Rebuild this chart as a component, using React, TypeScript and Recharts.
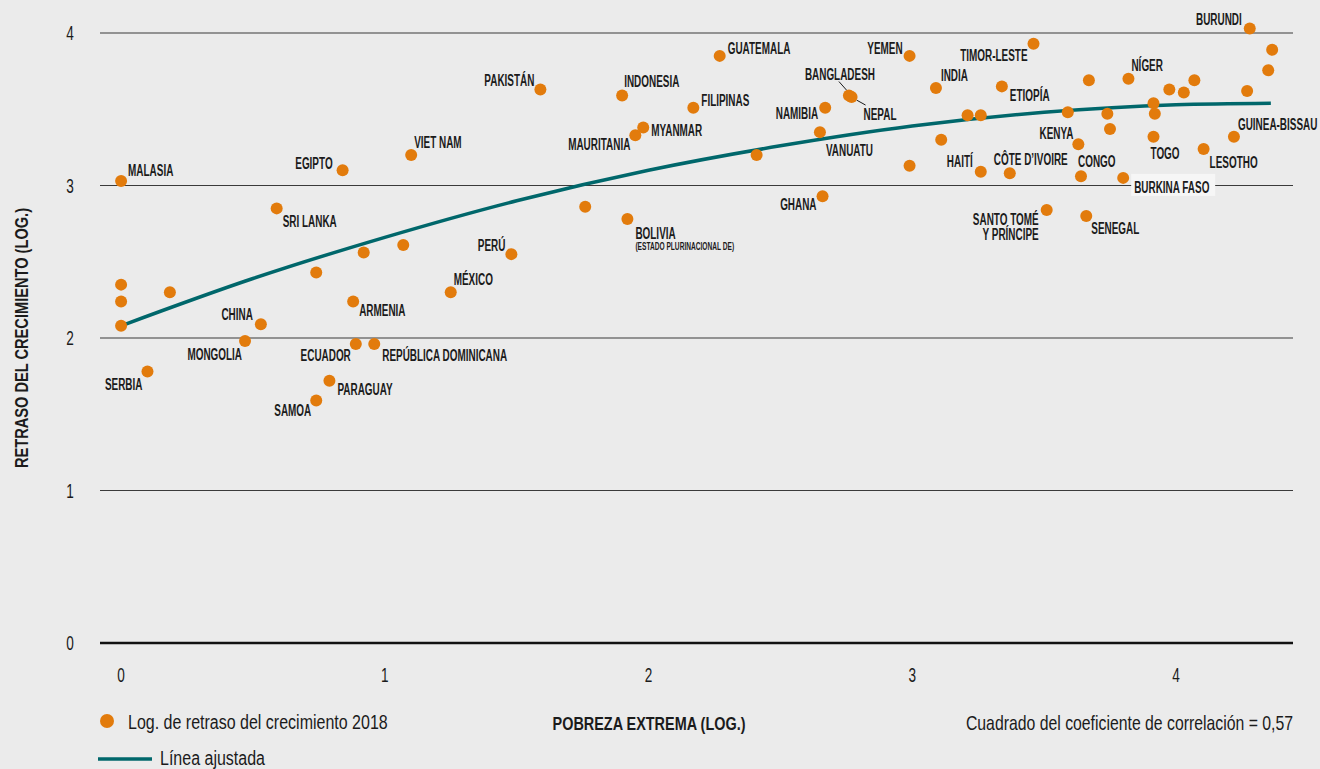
import { ComposedChart, Scatter, Line, XAxis, YAxis, ReferenceLine } from 'recharts'

// country labels ('' = unlabelled point), log of extreme poverty, log of stunting 2018
const countries = [
  'MALASIA', '', '', '', '', 'SERBIA', 'CHINA', 'MONGOLIA', 'SRI LANKA', 'EGIPTO',
  'VIET NAM', '', '', '', 'ARMENIA', 'ECUADOR', 'REPÚBLICA DOMINICANA', 'PARAGUAY', 'SAMOA', 'MÉXICO',
  'PERÚ', 'PAKISTÁN', '', 'INDONESIA', 'BOLIVIA\n(ESTADO PLURINACIONAL DE)', 'MAURITANIA', 'MYANMAR', 'FILIPINAS', 'GUATEMALA', '',
  'VANUATU', 'GHANA', 'NAMIBIA', 'BANGLADESH', 'NEPAL', 'YEMEN', '', 'INDIA', '', '',
  'HAITÍ', '', 'ETIOPÍA', 'CÔTE D’IVOIRE', 'TIMOR-LESTE', 'SANTO TOMÉ\nY PRÍNCIPE', '', 'KENYA', 'CONGO', 'SENEGAL',
  '', '', '', 'BURKINA FASO', 'NÍGER', '', '', 'TOGO', '', '',
  '', 'LESOTHO', 'GUINEA-BISSAU', '', 'BURUNDI', '', '',
]
const povertyLog = [
  0.0, 0.0, 0.0, 0.0, 0.185, 0.1, 0.53, 0.47, 0.59, 0.84,
  1.1, 0.74, 0.92, 1.07, 0.88, 0.89, 0.96, 0.79, 0.74, 1.25,
  1.48, 1.59, 1.76, 1.9, 1.92, 1.95, 1.98, 2.17, 2.27, 2.41,
  2.65, 2.66, 2.67, 2.76, 2.77, 2.99, 2.99, 3.09, 3.11, 3.21,
  3.26, 3.26, 3.34, 3.37, 3.46, 3.51, 3.59, 3.63, 3.64, 3.66,
  3.67, 3.74, 3.75, 3.8, 3.82, 3.915, 3.92, 3.915, 3.975, 4.03,
  4.07, 4.105, 4.22, 4.27, 4.28, 4.35, 4.365,
]
const stuntingLog = [
  3.03, 2.35, 2.24, 2.08, 2.3, 1.78, 2.09, 1.98, 2.85, 3.1,
  3.2, 2.43, 2.56, 2.61, 2.24, 1.96, 1.96, 1.72, 1.59, 2.3,
  2.55, 3.63, 2.86, 3.59, 2.78, 3.33, 3.38, 3.51, 3.85, 3.2,
  3.35, 2.93, 3.51, 3.59, 3.58, 3.85, 3.13, 3.64, 3.3, 3.46,
  3.09, 3.46, 3.65, 3.08, 3.93, 2.84, 3.48, 3.27, 3.06, 2.8,
  3.69, 3.47, 3.37, 3.05, 3.7, 3.54, 3.47, 3.32, 3.63, 3.61,
  3.69, 3.24, 3.32, 3.62, 4.03, 3.755, 3.89,
]

// fitted line
const fitX = [0, 0.5, 1, 1.5, 2, 2.5, 3, 3.5, 4, 4.36]
const fitY = [2.08, 2.39, 2.66, 2.9, 3.1, 3.26, 3.39, 3.48, 3.53, 3.54]

const xTicks = [0, 1, 2, 3, 4]
const yTicks = [0, 1, 2, 3, 4]

const points = countries.map((name, i) => ({ name, x: povertyLog[i], y: stuntingLog[i] }))
const fitData = fitX.map((x, i) => ({ x, fit: fitY[i] }))

const FONT = '"Liberation Sans", Arial, sans-serif'
const ORANGE = '#E27B0C'
const TEAL = '#00676B'
const INK = '#1b1b1b'

type LabelPos = { dx: number; dy: number; anchor: 'start' | 'end' | 'middle'; leader?: number[]; box?: boolean }

const labelPos: Record<string, LabelPos> = {
  'MALASIA': { dx: 7, dy: -5, anchor: 'start' },
  'EGIPTO': { dx: -10, dy: -1, anchor: 'end' },
  'VIET NAM': { dx: 3, dy: -7, anchor: 'start' },
  'SRI LANKA': { dx: 6, dy: 19, anchor: 'start' },
  'PAKISTÁN': { dx: -6, dy: -3, anchor: 'end' },
  'INDONESIA': { dx: 2, dy: -9, anchor: 'start' },
  'GUATEMALA': { dx: 8, dy: -2, anchor: 'start' },
  'FILIPINAS': { dx: 8, dy: -2, anchor: 'start' },
  'MYANMAR': { dx: 8, dy: 8, anchor: 'start' },
  'MAURITANIA': { dx: -5, dy: 15, anchor: 'end' },
  'YEMEN': { dx: -7, dy: -2, anchor: 'end' },
  'BANGLADESH': { dx: -9, dy: -16, anchor: 'middle', leader: [-10, -14, -2, -5] },
  'NEPAL': { dx: 12, dy: 23, anchor: 'start', leader: [5, 3, 14, 8] },
  'NAMIBIA': { dx: -7, dy: 11, anchor: 'end' },
  'VANUATU': { dx: 6, dy: 24, anchor: 'start' },
  'GHANA': { dx: -6, dy: 14, anchor: 'end' },
  'BOLIVIA': { dx: 8, dy: 20, anchor: 'start' },
  'PERÚ': { dx: -6, dy: -3, anchor: 'end' },
  'MÉXICO': { dx: 3, dy: -7, anchor: 'start' },
  'ARMENIA': { dx: 6, dy: 15, anchor: 'start' },
  'CHINA': { dx: -8, dy: -4, anchor: 'end' },
  'MONGOLIA': { dx: -3, dy: 19, anchor: 'end' },
  'ECUADOR': { dx: -5, dy: 17, anchor: 'end' },
  'REPÚBLICA DOMINICANA': { dx: 8, dy: 17, anchor: 'start' },
  'SERBIA': { dx: -5, dy: 18, anchor: 'end' },
  'PARAGUAY': { dx: 8, dy: 14, anchor: 'start' },
  'SAMOA': { dx: -5, dy: 15, anchor: 'end' },
  'BURUNDI': { dx: -8, dy: -3, anchor: 'end' },
  'TIMOR-LESTE': { dx: -6, dy: 17, anchor: 'end' },
  'INDIA': { dx: 5, dy: -7, anchor: 'start' },
  'ETIOPÍA': { dx: 8, dy: 15, anchor: 'start' },
  'NÍGER': { dx: 3, dy: -8, anchor: 'start' },
  'KENYA': { dx: -5, dy: -5, anchor: 'end' },
  'TOGO': { dx: -3, dy: 22, anchor: 'start' },
  'GUINEA-BISSAU': { dx: 4, dy: -7, anchor: 'start' },
  'LESOTHO': { dx: 6, dy: 19, anchor: 'start' },
  'HAITÍ': { dx: -8, dy: -5, anchor: 'end' },
  'CÔTE D’IVOIRE': { dx: -16, dy: -8, anchor: 'start' },
  'CONGO': { dx: -3, dy: -9, anchor: 'start' },
  'BURKINA FASO': { dx: 11, dy: 15, anchor: 'start', box: true },
  'SANTO TOMÉ': { dx: -8, dy: 15, anchor: 'end' },
  'SENEGAL': { dx: 5, dy: 18, anchor: 'start' },
}

// condensed text: regular font squeezed horizontally
function CondText({ x, y, text, size, scale, weight = 400, anchor = 'start', rotate = 0 }: {
  x: number; y: number; text: string; size: number; scale: number; weight?: number
  anchor?: 'start' | 'end' | 'middle'; rotate?: number
}) {
  return (
    <text
      transform={`translate(${x},${y}) rotate(${rotate}) scale(${scale},1)`}
      fontFamily={FONT} fontSize={size} fontWeight={weight} fill={INK} textAnchor={anchor}
    >
      {text}
    </text>
  )
}

function CountryDot(props: any) {
  const { cx, cy, payload } = props
  const lines: string[] = payload.name ? payload.name.split('\n') : []
  const pos = lines.length ? labelPos[lines[0]] : undefined
  return (
    <g>
      {pos?.leader && (
        <line x1={cx + pos.leader[0]} y1={cy + pos.leader[1]} x2={cx + pos.leader[2]} y2={cy + pos.leader[3]}
          stroke={INK} strokeWidth={1} />
      )}
      {pos?.box && <rect x={cx + pos.dx - 3} y={cy + pos.dy - 19} width={84} height={22} fill="#f6f6f6" />}
      <circle cx={cx} cy={cy} r={6} fill={ORANGE} />
      {pos && lines.map((t, i) => {
        const small = t.startsWith('(')
        return (
          <CondText key={i} x={cx + pos.dx} y={cy + pos.dy + (small ? 11 : i * 15)} text={t}
            size={small ? 10 : 17} scale={small ? 0.66 : 0.585} weight={700} anchor={pos.anchor} />
        )
      })}
    </g>
  )
}

function YTick(props: any) {
  return <CondText x={70} y={props.y + 7} text={String(props.payload.value)} size={20} scale={0.68} anchor="middle" />
}

function XTick(props: any) {
  return <CondText x={props.x} y={682} text={String(props.payload.value)} size={20} scale={0.68} anchor="middle" />
}

export default function App() {
  return (
    <div style={{ position: 'absolute', left: 0, top: 0, width: 1320, height: 769, background: '#ebebeb' }}>
      <ComposedChart width={1320} height={769} margin={{ top: 17.75, right: 27, bottom: 96, left: 70 }}>
        <XAxis type="number" dataKey="x" domain={[-0.08, 4.444]} ticks={xTicks}
          height={30} axisLine={false} tickLine={false} tick={XTick} />
        <YAxis type="number" domain={[0, 4.1]} ticks={yTicks}
          width={30} axisLine={false} tickLine={false} tick={YTick} />
        {yTicks.map(v => (
          <ReferenceLine key={v} y={v} stroke={v === 0 ? '#111' : '#3a3a3a'} strokeWidth={v === 0 ? 2.6 : 1.2} />
        ))}
        <Line data={fitData} dataKey="fit" type="monotone" stroke={TEAL} strokeWidth={3.5}
          dot={false} activeDot={false} isAnimationActive={false} />
        <Scatter data={points} dataKey="y" shape={CountryDot} isAnimationActive={false} />
      </ComposedChart>

      <svg width={1320} height={769} style={{ position: 'absolute', left: 0, top: 0, pointerEvents: 'none' }}>
        <CondText x={28} y={338} rotate={-90} text="RETRASO DEL CRECIMIENTO (LOG.)" size={19} scale={0.77} weight={700} anchor="middle" />
        <CondText x={649} y={730} text="POBREZA EXTREMA (LOG.)" size={19} scale={0.76} weight={700} anchor="middle" />
        <CondText x={1293} y={730} text="Cuadrado del coeficiente de correlación = 0,57" size={20} scale={0.79} anchor="end" />
        <circle cx={107} cy={721} r={7} fill={ORANGE} />
        <CondText x={128} y={729} text="Log. de retraso del crecimiento 2018" size={20} scale={0.8} />
        <line x1={98} y1={759} x2={152} y2={759} stroke={TEAL} strokeWidth={3.5} />
        <CondText x={160} y={765} text="Línea ajustada" size={20} scale={0.8} />
      </svg>
    </div>
  )
}
